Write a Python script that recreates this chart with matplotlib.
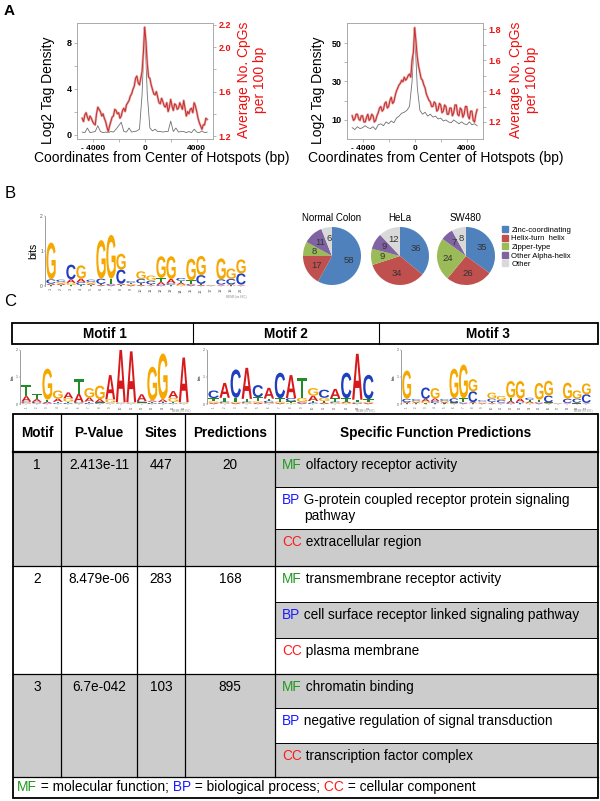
import matplotlib
matplotlib.use("Agg")
import matplotlib.pyplot as plt
from matplotlib.patches import PathPatch, Rectangle, Patch
from matplotlib.textpath import TextPath
from matplotlib.font_manager import FontProperties
from matplotlib.transforms import Affine2D

plt.rcParams['font.family'] = ['Liberation Sans', 'DejaVu Sans']

W, H = 600, 801

# -------------------------------
# Panel A data
# -------------------------------

tag_bp = list(range(-4800, 4801, 200))
cpg_bp = list(range(-4800, 4801, 100))

left_tag = [0.25, 0.2, 0.6, 0.2, 0.25, 0.3, 0.8, 0.3, 0.2, 0.25,
            0.2, 0.3, 0.25, 0.5, 0.8, 1.1, 0.3, 0.25, 0.6, 0.25,
            0.3, 0.35, 0.5, 3.5, 9.4, 3.5, 0.6, 0.35, 0.5, 0.3,
            0.3, 0.25, 0.3, 0.3, 1.2, 0.3, 0.6, 0.25, 0.3, 0.3,
            0.2, 0.3, 0.2, 0.5, 0.25, 0.2, 0.35, 0.2, 0.25]
left_cpg = [1.36, 1.33, 1.39, 1.41, 1.37, 1.34, 1.38, 1.36, 1.33, 1.31,
            1.30, 1.40, 1.46, 1.44, 1.42, 1.38, 1.40, 1.36, 1.33, 1.28,
            1.24, 1.29, 1.33, 1.37, 1.38, 1.44, 1.43, 1.40, 1.41, 1.36,
            1.38, 1.43, 1.45, 1.42, 1.48, 1.50, 1.52, 1.56, 1.58, 1.62,
            1.65, 1.72, 1.74, 1.68, 1.66, 1.72, 1.78, 1.95, 2.18, 2.05,
            1.85, 1.73, 1.72, 1.66, 1.62, 1.58, 1.57, 1.60, 1.55, 1.50,
            1.49, 1.54, 1.51, 1.47, 1.46, 1.50, 1.42, 1.46, 1.53, 1.47,
            1.43, 1.49, 1.48, 1.44, 1.45, 1.50, 1.47, 1.44, 1.52, 1.45,
            1.38, 1.42, 1.40, 1.44, 1.45, 1.41, 1.50, 1.47, 1.42, 1.36,
            1.32, 1.29, 1.26, 1.30, 1.30, 1.36, 1.35]

right_tag = [6.0, 5.0, 6.5, 5.5, 6.0, 7.0, 6.0, 5.5, 6.5, 5.0,
             7.5, 8.0, 7.0, 9.0, 8.0, 9.5, 8.5, 11.0, 12.0, 13.5,
             14.0, 15.0, 17.0, 30.0, 56.0, 27.0, 15.0, 13.0, 14.0, 12.0,
             13.0, 11.5, 12.0, 10.5, 11.0, 9.5, 10.0, 9.0, 8.5, 10.0,
             9.0, 8.0, 9.0, 8.0, 7.5, 9.0, 7.5, 8.0, 7.0]
right_cpg = [1.24, 1.21, 1.22, 1.25, 1.25, 1.22, 1.21, 1.24, 1.24, 1.20,
             1.20, 1.23, 1.25, 1.21, 1.22, 1.25, 1.24, 1.20, 1.21, 1.24,
             1.26, 1.29, 1.30, 1.27, 1.28, 1.32, 1.33, 1.29, 1.30, 1.34,
             1.36, 1.32, 1.33, 1.37, 1.40, 1.42, 1.44, 1.45, 1.47, 1.46,
             1.49, 1.47, 1.48, 1.50, 1.51, 1.49, 1.60, 1.65, 1.81, 1.72,
             1.62, 1.56, 1.52, 1.48, 1.47, 1.44, 1.42, 1.38, 1.36, 1.34,
             1.33, 1.30, 1.30, 1.33, 1.32, 1.27, 1.28, 1.32, 1.31, 1.26,
             1.27, 1.31, 1.30, 1.25, 1.25, 1.29, 1.29, 1.24, 1.26, 1.31,
             1.31, 1.25, 1.24, 1.29, 1.28, 1.23, 1.25, 1.30, 1.30, 1.24,
             1.22, 1.27, 1.27, 1.21, 1.20, 1.25, 1.28]

# -------------------------------
# Motif logos (bits per base)
# -------------------------------

motif1_A = [0.20, 0.10, 0.05, 0.12, 0.22, 0.30, 0.15, 0.12, 0.90, 1.93, 1.88, 0.25, 0.05, 0.10, 0.25, 1.65]
motif1_C = [0.05, 0.05, 0.03, 0.03, 0.04, 0.04, 0.04, 0.03, 0.02, 0.02, 0.02, 0.05, 0.04, 0.03, 0.03, 0.02]
motif1_G = [0.04, 0.03, 1.15, 0.30, 0.12, 0.03, 0.35, 0.50, 0.12, 0.03, 0.03, 0.03, 1.25, 1.70, 0.15, 0.03]
motif1_T = [0.42, 0.18, 0.08, 0.05, 0.05, 0.55, 0.05, 0.03, 0.03, 0.02, 0.02, 0.03, 0.04, 0.04, 0.05, 0.02]

motif2_A = [0.04, 0.55, 0.04, 1.15, 0.05, 0.40, 0.04, 0.85, 0.04, 0.20, 0.05, 0.35, 0.05, 1.70, 0.04]
motif2_C = [0.28, 0.05, 1.05, 0.05, 0.45, 0.08, 0.95, 0.12, 0.04, 0.05, 0.30, 0.05, 0.95, 0.04, 0.90]
motif2_G = [0.06, 0.04, 0.04, 0.04, 0.05, 0.04, 0.05, 0.04, 0.15, 0.28, 0.12, 0.04, 0.04, 0.04, 0.04]
motif2_T = [0.12, 0.14, 0.15, 0.10, 0.15, 0.08, 0.12, 0.06, 0.75, 0.06, 0.06, 0.12, 0.12, 0.08, 0.10]

motif3_A = [0.04, 0.04, 0.10, 0.10, 0.04, 0.03, 0.03, 0.04, 0.03, 0.03, 0.02, 0.08, 0.12, 0.05, 0.03, 0.03, 0.01, 0.02, 0.03, 0.02]
motif3_C = [0.12, 0.06, 0.42, 0.08, 0.06, 0.15, 0.03, 0.40, 0.05, 0.12, 0.10, 0.03, 0.05, 0.08, 0.03, 0.25, 0.01, 0.15, 0.15, 0.32]
motif3_G = [1.05, 0.05, 0.06, 0.38, 0.05, 1.10, 1.25, 0.45, 0.03, 0.22, 0.15, 0.62, 0.65, 0.04, 0.62, 0.55, 0.01, 0.60, 0.30, 0.40]
motif3_T = [0.03, 0.03, 0.03, 0.03, 0.03, 0.03, 0.15, 0.03, 0.03, 0.05, 0.03, 0.12, 0.03, 0.06, 0.10, 0.03, 0.01, 0.02, 0.02, 0.02]

# -------------------------------
# Panel B pies
# -------------------------------

pie_titles = ['Normal Colon', 'HeLa', 'SW480']
pie_counts = [[58, 17, 8, 11, 6],
              [36, 34, 9, 9, 12],
              [35, 26, 24, 7, 8]]
family_names = ['Zinc-coordinating', 'Helix-turn  helix', 'Zipper-type',
                'Other Alpha-helix', 'Other']
family_colors = ['#4f81bd', '#c0504d', '#9bbb59', '#8064a2', '#d9d9d9']

# -------------------------------
# Panel C table
# -------------------------------

motif_names = ['Motif 1', 'Motif 2', 'Motif 3']
table_header = ['Motif', 'P-Value', 'Sites', 'Predictions',
                'Specific Function Predictions']
motif_ids = ['1', '2', '3']
p_values = ['2.413e-11', '8.479e-06', '6.7e-042']
sites = ['447', '283', '103']
predictions = ['20', '168', '895']
go_terms = [
    [('MF', 'olfactory receptor activity'),
     ('BP', 'G-protein coupled receptor protein signaling\npathway'),
     ('CC', 'extracellular region')],
    [('MF', 'transmembrane receptor activity'),
     ('BP', 'cell surface receptor linked signaling pathway'),
     ('CC', 'plasma membrane')],
    [('MF', 'chromatin binding'),
     ('BP', 'negative regulation of signal transduction'),
     ('CC', 'transcription factor complex')],
]
footer_parts = [('MF', 'MF'), (None, ' = molecular function;'),
                ('BP', ' BP'), (None, ' = biological process;'),
                ('CC', ' CC'), (None, ' = cellular component')]

GO_COLORS = {'MF': '#1f9a1f', 'BP': '#1a1aff', 'CC': '#ff1a1a', None: 'black'}
BASE_COLORS = {'A': '#d7191c', 'C': '#1f3fbf', 'G': '#f5a800', 'T': '#228b2a'}
LOGO_FONT = FontProperties(family='Liberation Sans', weight='bold')
TABLE_GRAY = '#cccccc'
RED = '#ee1111'
FS = 9.8

fig = plt.figure(figsize=(6, 8.01), dpi=100)


def px_axes(x0, y0, x1, y1):
    return fig.add_axes([x0 / W, 1 - y1 / H, (x1 - x0) / W, (y1 - y0) / H])


bg = px_axes(0, 0, W, H)
bg.set_xlim(0, W)
bg.set_ylim(H, 0)
bg.axis('off')

bg.text(9, 11, 'A', fontsize=11, fontweight='bold', ha='center', va='center')
bg.text(10, 194, 'B', fontsize=12, ha='center', va='center')
bg.text(10, 301, 'C', fontsize=12, ha='center', va='center')


# ==================================================
#                 PANEL A
# ==================================================

def tag_panel(x0, tag, cpg, tag_lim, tag_ticks, tag_labels,
              cpg_lim, cpg_ticks, cpg_labels):
    ax = px_axes(x0, 23, x0 + 136, 139)
    ax.plot(tag_bp, tag, color='#707070', lw=0.6)
    ax.set_xlim(-5200, 5250)
    ax.set_ylim(*tag_lim)
    ax.set_xticks([-4000, -2000, 0, 2000, 4000])
    ax.set_xticklabels(['- 4000', '', '0', '', '4000'], fontsize=6, fontweight='bold')
    ax.set_yticks(tag_ticks)
    ax.set_yticklabels(tag_labels, fontsize=6.5, fontweight='bold')

    ax2 = ax.twinx()
    ax2.plot(cpg_bp, cpg, color='#eaa6a6', lw=1.7)
    ax2.plot(cpg_bp, cpg, color='#c0302e', lw=0.7)
    ax2.set_ylim(*cpg_lim)
    ax2.set_yticks(cpg_ticks)
    ax2.set_yticklabels(cpg_labels, fontsize=6.5, fontweight='bold', color=RED)

    for a in (ax, ax2):
        a.tick_params(length=2.5, width=0.5, color='#999999', pad=1.5)
        for s in a.spines.values():
            s.set_color('#aaaaaa')
            s.set_linewidth(0.6)
    return ax


tag_panel(77, left_tag, left_cpg, (-0.35, 9.7), [0, 2, 4, 6, 8], ['0', '', '4', '', '8'],
          (1.173, 2.218), [1.2, 1.4, 1.6, 1.8, 2.0, 2.2], ['1.2', '', '1.6', '', '2.0', '2.2'])
tag_panel(347, right_tag, right_cpg, (0.1, 60.4), [10, 20, 30, 40, 50], ['10', '', '30', '', '50'],
          (1.09, 1.84), [1.2, 1.3, 1.4, 1.5, 1.6, 1.7, 1.8], ['1.2', '', '1.4', '', '1.6', '', '1.8'])

for lx, rx, cx in [(48, 252, 162), (318, 524, 436)]:
    bg.text(lx, 90, 'Log2 Tag Density', rotation=90, fontsize=10, ha='center', va='center')
    bg.text(rx, 80, 'Average No. CpGs\nper 100 bp', rotation=90, fontsize=10,
            color=RED, ha='center', va='center', linespacing=1.1, multialignment='center')
    bg.text(cx, 158, 'Coordinates from Center of Hotspots (bp)', fontsize=10,
            ha='center', va='center')


# ==================================================
#                 LOGOS
# ==================================================

def draw_logo(ax, A, C, G, T, tick_fs, bits_fs):
    n = len(A)
    for i in range(n):
        stack = sorted(zip([A[i], C[i], G[i], T[i]], 'ACGT'))
        y = 0.0
        for h, base in stack:
            tp = TextPath((0, 0), base, size=1, prop=LOGO_FONT)
            bb = tp.get_extents()
            tr = (Affine2D().translate(-bb.x0, -bb.y0)
                  .scale(0.94 / bb.width, h / bb.height)
                  .translate(i + 1 - 0.47, y))
            ax.add_patch(PathPatch(tr.transform_path(tp), fc=BASE_COLORS[base],
                                   ec='none', lw=0))
            y += h
    ax.set_xlim(0.4, n + 0.6)
    ax.set_ylim(0, 2)
    for s in ['top', 'right', 'bottom']:
        ax.spines[s].set_visible(False)
    ax.spines['left'].set_linewidth(0.4)
    ax.spines['left'].set_color('#555555')
    ax.set_yticks([0, 1, 2])
    ax.set_yticklabels(['0', '1', '2'], fontsize=tick_fs)
    ax.set_xticks(range(1, n + 1))
    ax.set_xticklabels([str(k) for k in range(1, n + 1)], fontsize=tick_fs * 0.8,
                       rotation=90)
    ax.tick_params(length=1, width=0.3, pad=0.5, colors='#555555')
    ax.set_ylabel('bits', fontsize=bits_fs, labelpad=1)
    ax.patch.set_visible(False)


ax_b = px_axes(45, 216, 247, 286)
draw_logo(ax_b, motif3_A, motif3_C, motif3_G, motif3_T, 3.5, 7.5)
bg.text(247, 297, 'MEME (no SSC)', fontsize=2, color='#888888', ha='right', va='center')

for (x0, x1), motif in zip([(20, 190), (207, 375), (401, 592)],
                           [(motif1_A, motif1_C, motif1_G, motif1_T),
                            (motif2_A, motif2_C, motif2_G, motif2_T),
                            (motif3_A, motif3_C, motif3_G, motif3_T)]):
    ax_m = px_axes(x0, 350, x1, 404)
    draw_logo(ax_m, *motif, 2.5, 2.5)
    bg.text(x1, 411, 'MEME (no SSC)', fontsize=1.8, color='#888888', ha='right', va='center')


# ==================================================
#                 PANEL B PIES
# ==================================================

for cx, title, counts in zip([332, 400, 466], pie_titles, pie_counts):
    ax_p = px_axes(cx - 29, 227, cx + 29, 285)
    wedges, texts = ax_p.pie(counts, colors=family_colors, startangle=90,
                             counterclock=False,
                             labels=[str(c) for c in counts], labeldistance=0.62,
                             textprops=dict(fontsize=6.8, color='#333333'))
    for t in texts:
        t.set_ha('center')
        t.set_va('center')
    ax_p.set_xlim(-1, 1)
    ax_p.set_ylim(-1, 1)
    bg.text(cx, 218, title, fontsize=7, ha='center', va='center')

handles = [Patch(color=c, label=n) for c, n in zip(family_colors, family_names)]
fig.legend(handles=handles, loc='upper left', bbox_to_anchor=(502 / W, 1 - 226 / H),
           fontsize=5.6, frameon=False, handlelength=0.8, handleheight=0.8,
           handletextpad=0.4, labelspacing=0.12, borderaxespad=0, borderpad=0)


# ==================================================
#                 PANEL C TABLE
# ==================================================

renderer = fig.canvas.get_renderer()


def run_text(x, y, parts, fs):
    widths = []
    for key, s in parts:
        t = bg.text(x, y, s, color=GO_COLORS[key], fontsize=fs, ha='left', va='center')
        w = t.get_window_extent(renderer).width
        widths.append(w)
        x += w
    return widths


# motif header strip
bg.add_patch(Rectangle((12, 323), 586, 21, fc='white', ec='black', lw=1.3))
for xd in [193, 379]:
    bg.plot([xd, xd], [323, 344], color='black', lw=0.8)
for cx, name in zip([105, 286, 488], motif_names):
    bg.text(cx, 334, name, fontsize=9.8, fontweight='bold', ha='center', va='center')

col_edges = [13, 61, 137, 185, 275, 598]
header_top = 414
sub_edges = [452, 487, 529, 566, 602, 638, 674, 708, 743, 777]
footer_bot = 798

for r in range(3):
    top, bot = sub_edges[3 * r], sub_edges[3 * r + 3]
    if r % 2 == 0:
        bg.add_patch(Rectangle((13, top), 262, bot - top, fc=TABLE_GRAY, ec='none'))
for k in range(9):
    if k % 2 == 0:
        bg.add_patch(Rectangle((275, sub_edges[k]), 323, sub_edges[k + 1] - sub_edges[k],
                               fc=TABLE_GRAY, ec='none'))

# grid lines
for y in [sub_edges[3], sub_edges[6], sub_edges[9]]:
    bg.plot([13, 598], [y, y], color='black', lw=0.9)
bg.plot([13, 598], [sub_edges[0], sub_edges[0]], color='black', lw=1.6)
for k in [1, 2, 4, 5, 7, 8]:
    bg.plot([275, 598], [sub_edges[k], sub_edges[k]], color='black', lw=0.7)
for xc in col_edges[1:-1]:
    bg.plot([xc, xc], [header_top, sub_edges[9]], color='black', lw=0.9)
bg.add_patch(Rectangle((13, header_top), 585, footer_bot - header_top,
                       fc='none', ec='black', lw=1.3))

col_centers = [37, 99, 161, 230, 436]
for cx, name in zip(col_centers, table_header):
    bg.text(cx, 433, name, fontsize=FS, fontweight='bold', ha='center', va='center')

for r in range(3):
    top = sub_edges[3 * r]
    for cx, val in zip(col_centers[:4], [motif_ids[r], p_values[r], sites[r], predictions[r]]):
        bg.text(cx, top + 13, val, fontsize=FS, ha='center', va='center')
    for k, (key, desc) in enumerate(go_terms[r]):
        y = sub_edges[3 * r + k] + 13
        lines = desc.split('\n')
        widths = run_text(282, y, [(key, key), (None, ' ' + lines[0])], FS)
        if len(lines) > 1:
            bg.text(282 + widths[0] + 4, y + 16, lines[1], fontsize=FS,
                    ha='left', va='center')

run_text(17, 787, footer_parts, 9.9)

fig.savefig('out.png', dpi=100)
